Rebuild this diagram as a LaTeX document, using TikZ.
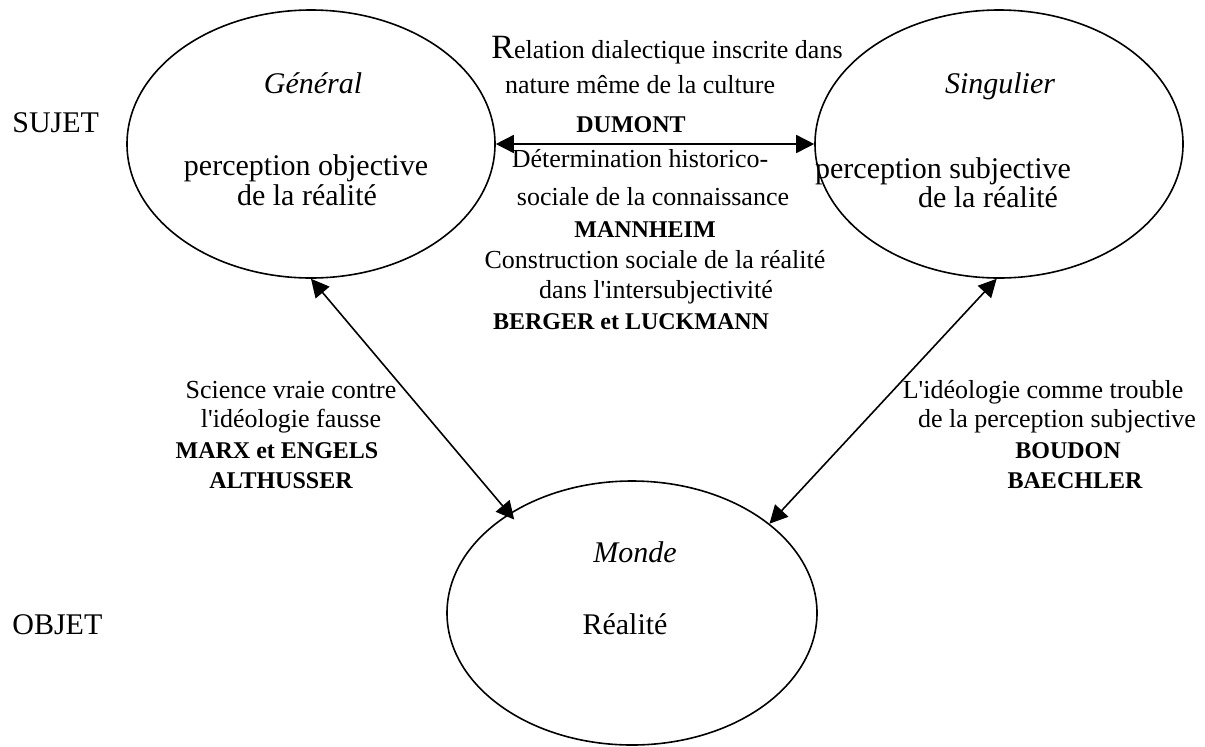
\documentclass[tikz,border=0pt]{standalone}
\usepackage{fontspec}
\setmainfont{Liberation Serif}[Ligatures=TeXOff]
\usetikzlibrary{shapes.geometric,arrows.meta}
\begin{document}
\begin{tikzpicture}[x=0.5pt,y=-0.5pt,
  oval/.style={draw,ellipse,line width=0.8pt,inner sep=0pt},
  big/.style={anchor=base,inner sep=0pt,font=\fontsize{15}{18}\selectfont},
  lbl/.style={anchor=base,inner sep=0pt,font=\fontsize{13}{15}\selectfont},
  author/.style={anchor=base,inner sep=0pt,font=\fontsize{12}{14}\selectfont\bfseries},
  link/.style={line width=0.8pt,{Triangle[length=9pt,width=9pt]}-{Triangle[length=9pt,width=9pt]}}]
\useasboundingbox (0,0) rectangle (1205,746);

% the three poles
\node[oval,minimum width=184pt,minimum height=134pt] (gen) at (311,144) {};
\node[oval,minimum width=184pt,minimum height=134pt] (sing) at (999,144) {};
\node[oval,minimum width=185pt,minimum height=132pt] (monde) at (632,613) {};

% row titles
\node[big,anchor=base west] (sujet) at (12,132) {SUJET};
\node[big,anchor=base west] (objet) at (12,634) {OBJET};

% texts inside the poles
\node[big] (genT) at (313,93) {\itshape Général};
\node[big] (genA) at (306,175) {perception objective};
\node[big] (genB) at (307,205) {de la réalité};
\node[big] (singT) at (1000,93) {\itshape Singulier};
\node[big] (singA) at (943,178) {perception subjective};
\node[big] (singB) at (988,207) {de la réalité};
\node[big] (mondeT) at (635,562) {\itshape Monde};
\node[big] (mondeA) at (625,634) {Réalité};

% connectors
\draw[link] (gen.east) -- (sing.west);
\draw[link,shorten >=-4pt] (gen.south) -- (monde.141);
\draw[link] (sing.-91) -- (monde.33);

% central labels
\node[lbl] (c1) at (667,58) {{\fontsize{17}{17}\selectfont R}elation dialectique inscrite dans};
\node[lbl] (c2) at (640,93) {nature même de la culture};
\node[author] (c3) at (631,132) {DUMONT};
\node[lbl] (c4) at (640,167) {Détermination historico-};
\node[lbl] (c5) at (653,205) {sociale de la connaissance};
\node[author] (c6) at (645,237) {MANNHEIM};
\node[lbl] (c7) at (655,268) {Construction sociale de la réalité};
\node[lbl] (c8) at (656,298) {dans l'intersubjectivité};
\node[author] (c9) at (631,329) {BERGER et LUCKMANN};

% left labels
\node[lbl] (l1) at (291,398) {Science vraie contre};
\node[lbl] (l2) at (291,427) {l'idéologie fausse};
\node[author] (l3) at (277,458) {MARX et ENGELS};
\node[author] (l4) at (281,488) {ALTHUSSER};

% right labels
\node[lbl] (r1) at (1043,398) {L'idéologie comme trouble};
\node[lbl] (r2) at (1057,427) {de la perception subjective};
\node[author] (r3) at (1068,458) {BOUDON};
\node[author] (r4) at (1075,488) {BAECHLER};
\end{tikzpicture}
\end{document}
